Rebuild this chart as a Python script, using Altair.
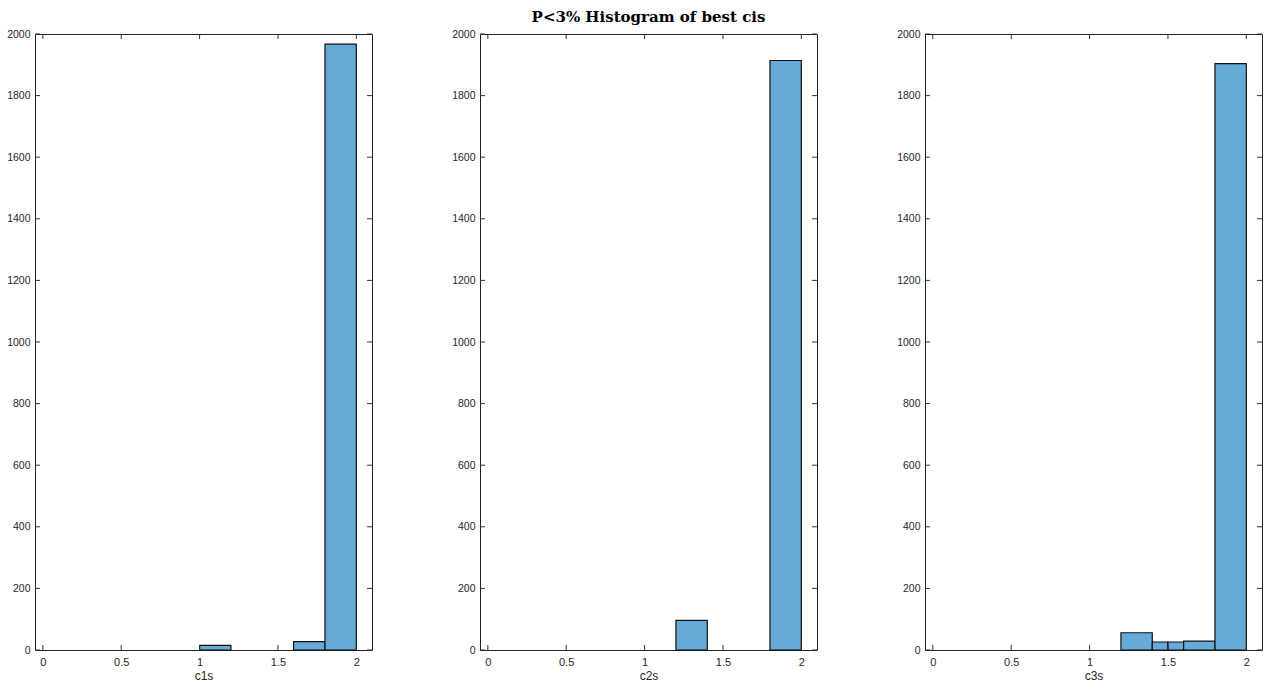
import altair as alt
import pandas as pd

# ---- data ----
c1_start = [1.0, 1.6, 1.8]
c1_end = [1.2, 1.8, 2.0]
c1_count = [15, 27, 1967]

c2_start = [1.2, 1.8]
c2_end = [1.4, 2.0]
c2_count = [96, 1914]

c3_start = [1.2, 1.4, 1.5, 1.6, 1.8]
c3_end = [1.4, 1.5, 1.6, 1.8, 2.0]
c3_count = [56, 26, 26, 29, 1904]

x_ticks = [0, 0.5, 1, 1.5, 2]
y_ticks = [0, 200, 400, 600, 800, 1000, 1200, 1400, 1600, 1800, 2000]

panel_titles = [" ", "P<3% Histogram of best cis", " "]
x_titles = ["c1s", "c2s", "c3s"]

W, H = 337, 616
FONT = "Liberation Sans"
TXT = "#262626"

xscale = alt.Scale(domain=[-0.05, 2.1], nice=False, zero=False)
yscale = alt.Scale(domain=[0, 2000], nice=False)


def panel(starts, ends, counts, title_text, xtitle):
    df = pd.DataFrame({"start": starts, "end": ends, "count": counts})
    xt = pd.DataFrame({"v": x_ticks})
    yt = pd.DataFrame({"v": y_ticks})
    xaxis = alt.Axis(values=x_ticks, title=xtitle, ticks=False, tickSize=0, domain=False,
                     grid=False, labelPadding=6, labelFont=FONT, labelFontSize=11,
                     labelColor=TXT, titleFont=FONT, titleFontSize=12, titleFontWeight="normal",
                     titleColor=TXT, titlePadding=3, labelFlush=False, format="~g")
    yaxis = alt.Axis(values=y_ticks, title=None, ticks=False, tickSize=0, domain=False,
                     grid=False, labelPadding=5, labelFont=FONT, labelFontSize=10.5,
                     labelColor=TXT, format="d")
    bars = alt.Chart(df).mark_bar(fill="#66AAD7", stroke="#111111", strokeWidth=1.2).encode(
        x=alt.X("start:Q", scale=xscale, axis=xaxis),
        x2="end:Q",
        y=alt.Y("count:Q", scale=yscale, axis=yaxis),
        y2=alt.datum(0),
    )
    xb = alt.Chart(xt).mark_rule(color="#333333", strokeWidth=1).encode(
        x=alt.X("v:Q", scale=xscale, axis=xaxis), y=alt.value(H), y2=alt.value(H - 5))
    xtp = alt.Chart(xt).mark_rule(color="#333333", strokeWidth=1).encode(
        x=alt.X("v:Q", scale=xscale, axis=xaxis), y=alt.value(0), y2=alt.value(5))
    yl = alt.Chart(yt).mark_rule(color="#333333", strokeWidth=1).encode(
        y=alt.Y("v:Q", scale=yscale, axis=yaxis), x=alt.value(0), x2=alt.value(5))
    yr = alt.Chart(yt).mark_rule(color="#333333", strokeWidth=1).encode(
        y=alt.Y("v:Q", scale=yscale, axis=yaxis), x=alt.value(W - 5), x2=alt.value(W))
    return alt.layer(bars, xb, xtp, yl, yr).properties(
        width=W, height=H,
        title=alt.TitleParams(title_text, font="DejaVu Serif", fontSize=15,
                              fontWeight="bold", color="#000000", offset=4, anchor="middle"),
    )


p1 = panel(c1_start, c1_end, c1_count, panel_titles[0], x_titles[0])
p2 = panel(c2_start, c2_end, c2_count, panel_titles[1], x_titles[1])
p3 = panel(c3_start, c3_end, c3_count, panel_titles[2], x_titles[2])

chart = alt.hconcat(p1, p2, p3, spacing=78).properties(
    padding={"left": 6, "top": 9, "right": 0, "bottom": 0},
    background="white",
).configure_view(stroke="#222222", strokeWidth=1)

chart.save("out.html", embed_options={"renderer": "svg", "actions": False})
